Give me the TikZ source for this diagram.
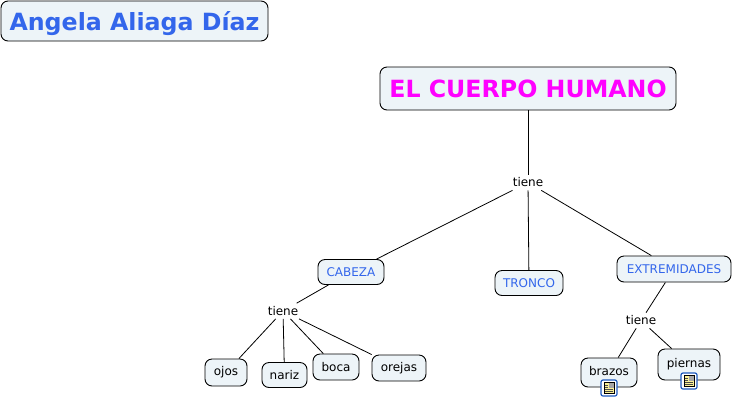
\documentclass[tikz,border=0pt]{standalone}
\usepackage{xcolor}
\usepackage{fontspec}
\setmainfont{DejaVu Sans}
\usepackage{tikz}
\usetikzlibrary{positioning}
\definecolor{boxcolor}{RGB}{237,244,248}
\definecolor{conceptcolor}{RGB}{51,102,235}
\definecolor{iconcolor}{RGB}{30,90,190}
\definecolor{notecolor}{RGB}{250,240,150}

\begin{document}
\begin{tikzpicture}[
        x=1pt, y=-1pt,
        concept/.style={draw=black, line width=0.9pt, rounded corners=7pt, fill=boxcolor, align=center, inner sep=0pt, font=\fontsize{12}{14}\selectfont},
        blueconcept/.style={concept, text=conceptcolor},
        linkword/.style={inner xsep=2pt, inner ysep=3pt, font=\fontsize{12}{14}\selectfont},
        noteicon/.style={draw=iconcolor, line width=1.2pt, rounded corners=2pt, fill=white, minimum size=16pt, inner sep=0pt},
        link/.style={draw=black, line width=0.8pt}
    ]
        \useasboundingbox (0,0) rectangle (733,400);

        % titles
        \node[blueconcept, minimum width=267pt, minimum height=40pt, text depth=0pt, font=\fontsize{23.7}{28}\selectfont\bfseries] (autor) at (134.5,21) {Angela Aliaga Díaz};
        \node[concept, text={rgb,255:red,255;green,0;blue,255}, minimum width=296pt, minimum height=43pt, font=\fontsize{23.7}{28}\selectfont\bfseries] (cuerpo) at (528,88.5) {EL CUERPO HUMANO};

        % concepts
        \node[linkword] (tiene1) at (528,182.5) {tiene};
        \node[blueconcept, minimum width=66pt, minimum height=25pt] (cabeza) at (351,272) {CABEZA};
        \node[blueconcept, minimum width=68pt, minimum height=25pt] (tronco) at (529,283) {TRONCO};
        \node[blueconcept, minimum width=114pt, minimum height=26pt] (extremidades) at (674,269) {EXTREMIDADES};

        \node[linkword] (tiene2) at (283,311) {tiene};
        \node[concept, minimum width=42pt, minimum height=27pt] (ojos) at (226,372.5) {ojos};
        \node[concept, minimum width=45pt, minimum height=25pt] (nariz) at (284.5,375) {nariz};
        \node[concept, minimum width=46pt, minimum height=26pt] (boca) at (336,367) {boca};
        \node[concept, minimum width=54pt, minimum height=26pt] (orejas) at (399,368) {orejas};

        \node[linkword] (tiene3) at (641,320.5) {tiene};
        \node[concept, minimum width=56pt, minimum height=29pt] (brazos) at (609,372.5) {\raisebox{3pt}{brazos}};
        \node[concept, minimum width=62pt, minimum height=31pt] (piernas) at (689,364.5) {\raisebox{3pt}{piernas}};

        % links
        \draw[link] (cuerpo) -- (tiene1);
        \draw[link] (tiene1) -- (cabeza);
        \draw[link] (tiene1) -- (tronco);
        \draw[link] (tiene1) -- (extremidades);
        \draw[link] (cabeza) -- (tiene2);
        \draw[link] (tiene2) -- (ojos);
        \draw[link] (tiene2) -- (nariz);
        \draw[link] (tiene2) -- (boca);
        \draw[link] (tiene2) -- (orejas);
        \draw[link] (extremidades) -- (tiene3);
        \draw[link] (tiene3) -- (brazos);
        \draw[link] (tiene3) -- (piernas);

        % note icons
        \foreach \nodename/\xpos/\ypos in {iconbrazos/609/388, iconpiernas/689/381} {
            \node[noteicon] (\nodename) at (\xpos,\ypos) {};
            \fill[notecolor, draw=black, line width=0.5pt] ([shift={(-5,-5.5)}]\nodename.center) rectangle ([shift={(5,5.5)}]\nodename.center);
            \fill[gray!70] ([shift={(0,-5)}]\nodename.center) rectangle ([shift={(4.5,-0.5)}]\nodename.center);
            \foreach \yline/\xline in {-3/-1,-1/-1,1/4,3/4} {
                \draw[black!70, line width=0.5pt] ([shift={(-4,\yline)}]\nodename.center) -- ([shift={(\xline,\yline)}]\nodename.center);
            }
        }
    \end{tikzpicture}
\end{document}
